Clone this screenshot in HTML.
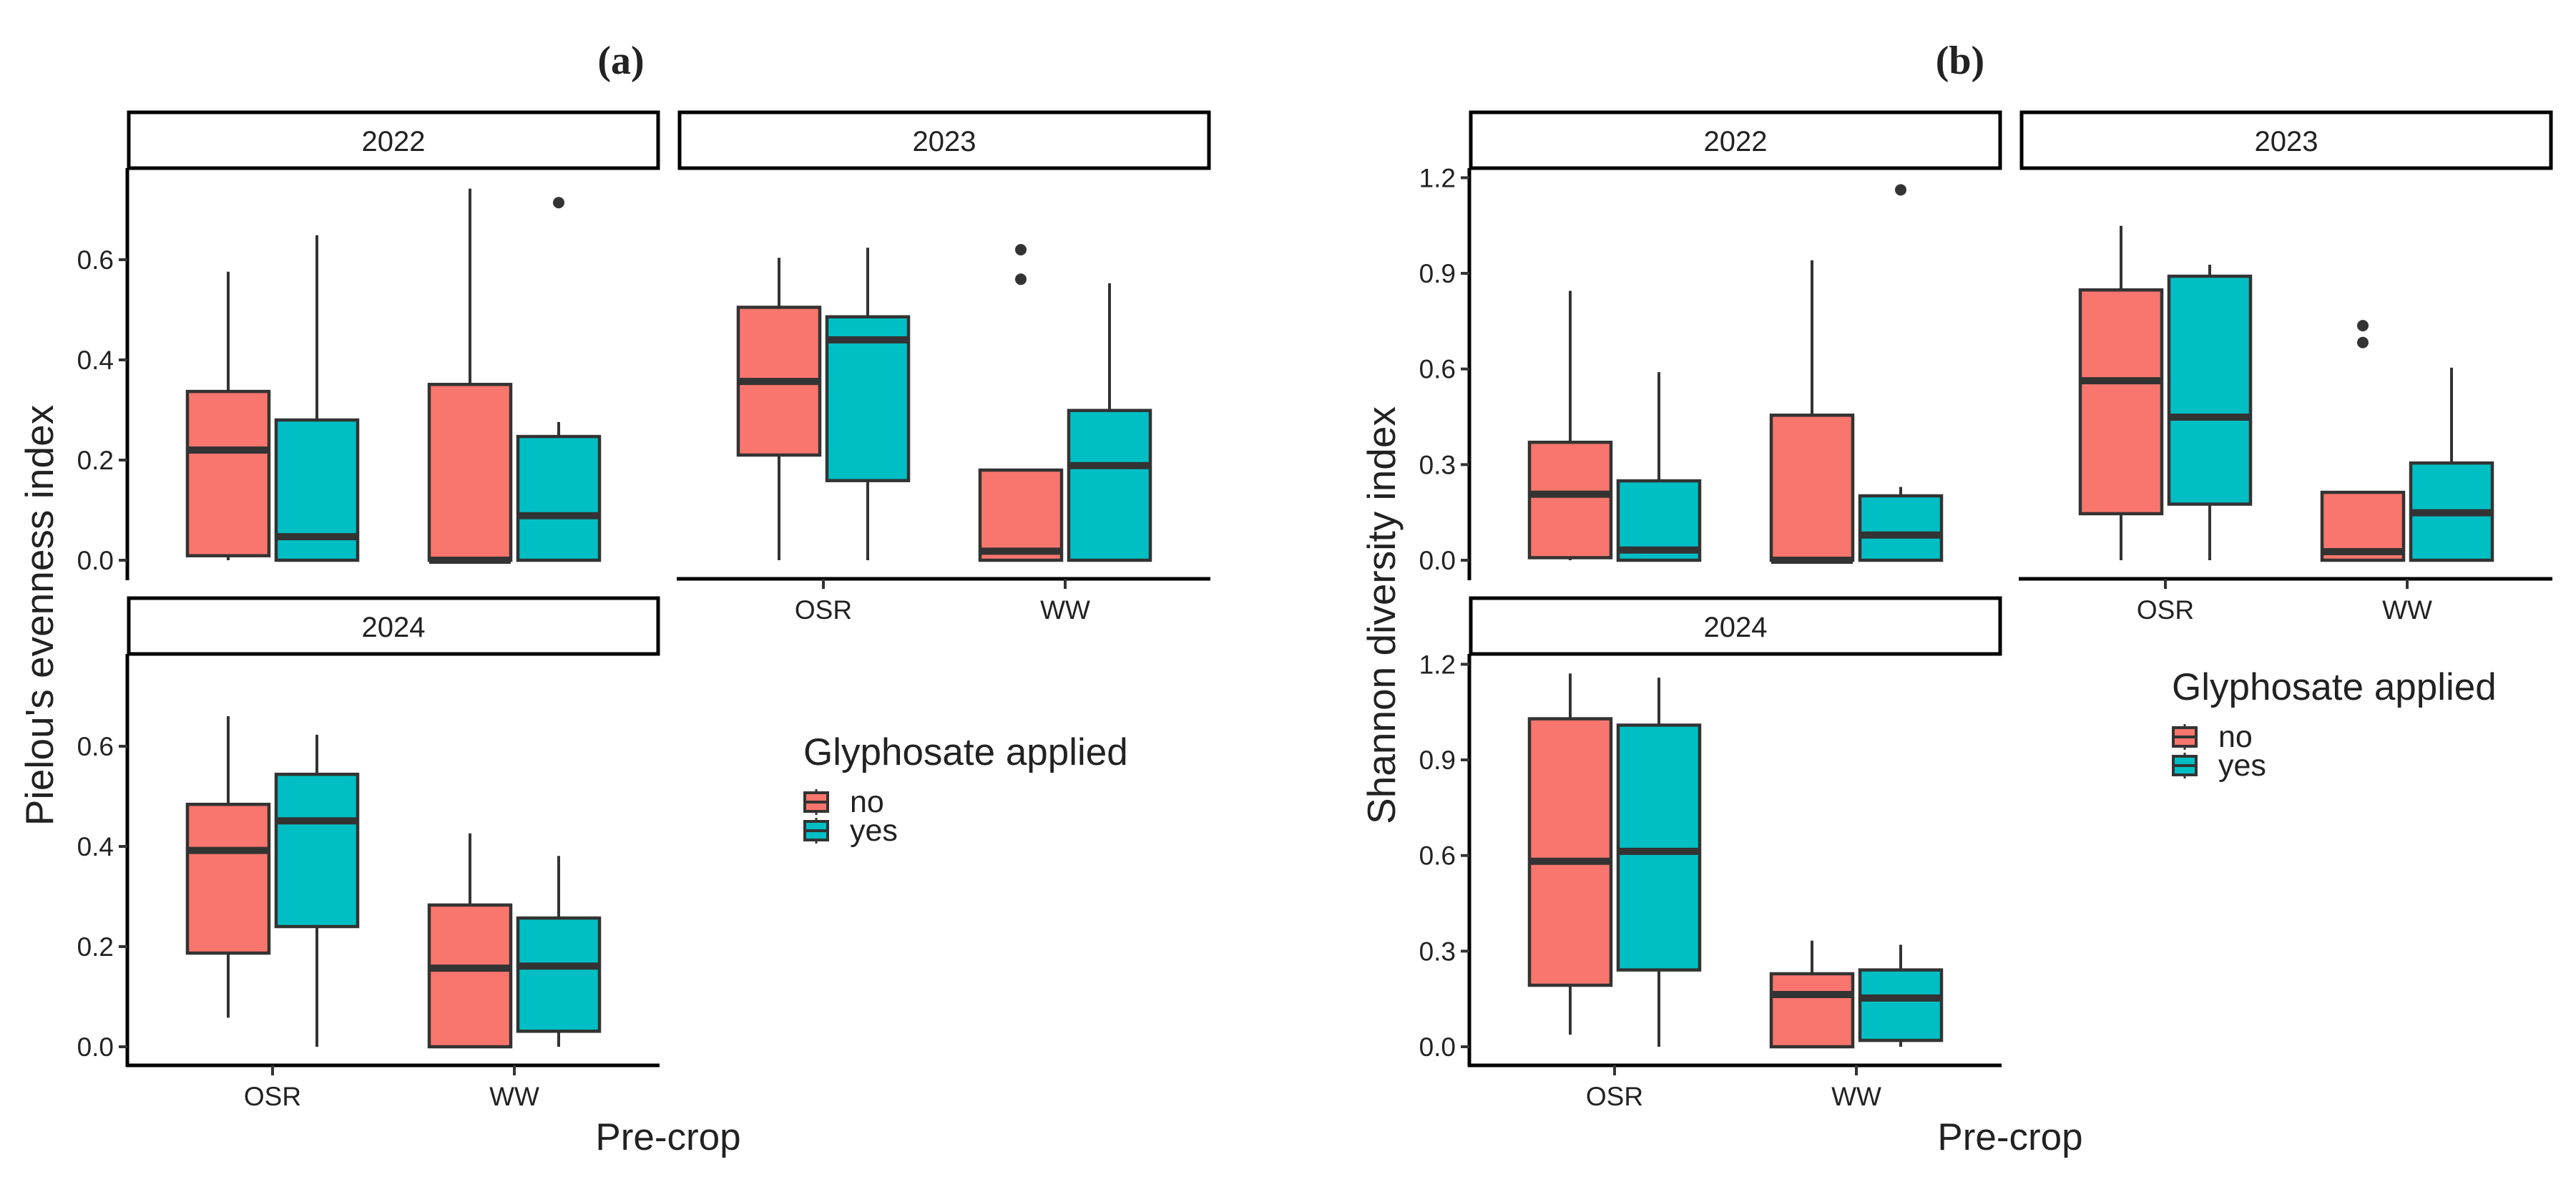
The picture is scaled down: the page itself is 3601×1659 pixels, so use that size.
<!DOCTYPE html>
<html><head><meta charset="utf-8"><style>
html,body{margin:0;padding:0;background:#fff}
svg{display:block}
text{font-family:"Liberation Sans",sans-serif;fill:#222}
</style></head><body>
<svg id="chart" xmlns="http://www.w3.org/2000/svg" width="3601" height="1659" viewBox="0 0 3601 1659"></svg>
<script>
// categories and groups
const categories = ["OSR", "WW"];
const groups = ["no", "yes"];
const years = ["2022", "2023", "2024"];
// Pielou's evenness: [min, q1, median, q3, max] per year / crop / glyphosate
const pielou2022 = [[0, 0.009, 0.22, 0.337, 0.576], [0, 0, 0.047, 0.28, 0.649], [0, 0, 0, 0.351, 0.742], [0, 0, 0.089, 0.247, 0.276]];
const pielou2023 = [[0, 0.21, 0.357, 0.505, 0.604], [0, 0.159, 0.44, 0.486, 0.624], [0, 0, 0.018, 0.18, 0.18], [0, 0, 0.189, 0.299, 0.553]];
const pielou2024 = [[0.058, 0.187, 0.392, 0.484, 0.66], [0, 0.24, 0.451, 0.544, 0.623], [0, 0, 0.157, 0.283, 0.426], [0, 0.031, 0.161, 0.257, 0.381]];
const pielouOut2022 = [[], [], [], [0.714]];
const pielouOut2023 = [[], [], [0.62, 0.561], []];
const pielouOut2024 = [[], [], [], []];
// Shannon diversity
const shannon2022 = [[0, 0.008, 0.207, 0.37, 0.845], [0, 0, 0.032, 0.249, 0.59], [0, 0, 0, 0.455, 0.941], [0, 0, 0.079, 0.202, 0.23]];
const shannon2023 = [[0, 0.146, 0.563, 0.848, 1.049], [0, 0.176, 0.449, 0.891, 0.927], [0, 0, 0.027, 0.213, 0.213], [0, 0, 0.149, 0.305, 0.604]];
const shannon2024 = [[0.038, 0.193, 0.582, 1.029, 1.171], [0, 0.241, 0.613, 1.009, 1.158], [0, 0, 0.164, 0.229, 0.333], [0, 0.02, 0.153, 0.241, 0.32]];
const shannonOut2022 = [[], [], [], [1.162]];
const shannonOut2023 = [[], [], [0.736, 0.683], []];
const shannonOut2024 = [[], [], [], []];
// tick labels
const pielouTicks = [0.0, 0.2, 0.4, 0.6];
const pielouTickLabels = ["0.0", "0.2", "0.4", "0.6"];
const shannonTicks = [0.0, 0.3, 0.6, 0.9, 1.2];
const shannonTickLabels = ["0.0", "0.3", "0.6", "0.9", "1.2"];

const NS = "http://www.w3.org/2000/svg";
const svg = document.getElementById("chart");
const fills = {no: "#F8766D", yes: "#00BFC4"};
function mk(tag, attrs, parent, text) {
  const e = document.createElementNS(NS, tag);
  for (const k in attrs) e.setAttribute(k, attrs[k]);
  if (text !== undefined) e.textContent = text;
  (parent || svg).appendChild(e);
  return e;
}

function drawPanel(P) {
  const g = mk("g", {});
  
  
  const yS = v => P.base - P.scale * v;
  const xCat = i => P.x0 + 201 + i * 338;
  const st = mk("rect", {x: P.x0, y: P.stripY, width: 740, height: 78, fill: "#fff", stroke: "#000", "stroke-width": 5}, g);
  
  
  const stt = mk("text", {x: P.x0 + 370, y: P.stripY + 54, "font-size": 40, "text-anchor": "middle"}, g, P.year);
  
  
  if (P.leftAxis) {
    const ax = mk("line", {x1: P.x0 - 2, x2: P.x0 - 2, y1: P.stripY + 78, y2: P.base + 28, stroke: "#000", "stroke-width": 5}, g);
    
    
    P.ticks.forEach((t, i) => {
      const tk = mk("line", {x1: P.x0 - 14, x2: P.x0 - 2, y1: yS(t), y2: yS(t), stroke: "#333", "stroke-width": 4}, g);
      
      
      const tl = mk("text", {x: P.x0 - 21, y: yS(t) + 13, "font-size": 37, "text-anchor": "end", fill: "#333"}, g, P.labels[i]);
      
      
    });
  }
  if (P.bottomAxis) {
    const ax = mk("line", {x1: P.x0 - 4, x2: P.x0 + 742, y1: P.base + 26, y2: P.base + 26, stroke: "#000", "stroke-width": 5}, g);
    
    
    categories.forEach((c, i) => {
      const tk = mk("line", {x1: xCat(i), x2: xCat(i), y1: P.base + 26, y2: P.base + 40, stroke: "#333", "stroke-width": 4}, g);
      
      
      const tl = mk("text", {x: xCat(i), y: P.base + 82, "font-size": 37, "text-anchor": "middle", fill: "#333"}, g, c);
      
      
    });
  }
  P.stats.forEach((s, k) => {
    const ci = Math.floor(k / 2), gi = k % 2;
    const cx = xCat(ci) + (gi === 0 ? -62 : 62);
    const bg = mk("g", {}, g);
    
    
    const w1 = mk("line", {x1: cx, x2: cx, y1: yS(s[3]), y2: yS(s[4]), stroke: "#333", "stroke-width": 4}, bg);
    
    
    const w2 = mk("line", {x1: cx, x2: cx, y1: yS(s[1]), y2: yS(s[0]), stroke: "#333", "stroke-width": 4}, bg);
    
    
    const r = mk("rect", {x: cx - 57, y: yS(s[3]), width: 114, height: Math.max(0.5, yS(s[1]) - yS(s[3])), fill: fills[groups[gi]], stroke: "#333", "stroke-width": 4.5}, bg);
    
    
    const m = mk("line", {x1: cx - 57, x2: cx + 57, y1: yS(s[2]), y2: yS(s[2]), stroke: "#333", "stroke-width": 10}, bg);
    
    
    P.outs[k].forEach(o => {
      const c = mk("circle", {cx: cx, cy: yS(o), r: 8, fill: "#333"}, bg);
      
      
    });
  });
}

function drawFigure(F) {
  drawPanel({prefix: F.prefix, x0: F.x0, base: 783, scale: F.scale, stats: F.stats[0], outs: F.outs[0], year: years[0], stripY: 157, leftAxis: true, bottomAxis: false, ticks: F.ticks, labels: F.labels});
  drawPanel({prefix: F.prefix, x0: F.x0 + 770, base: 783, scale: F.scale, stats: F.stats[1], outs: F.outs[1], year: years[1], stripY: 157, leftAxis: false, bottomAxis: true, ticks: F.ticks, labels: F.labels});
  drawPanel({prefix: F.prefix, x0: F.x0, base: 1463, scale: F.scale, stats: F.stats[2], outs: F.outs[2], year: years[2], stripY: 836, leftAxis: true, bottomAxis: true, ticks: F.ticks, labels: F.labels});
  const t = mk("text", {x: F.titleX, y: 103, "font-size": 56, "text-anchor": "middle", style: "font-family:'Liberation Serif',serif;font-weight:bold", fill: "#000"}, svg, F.title);
  
  
  const yt = mk("text", {x: 0, y: 0, "font-size": 55, "text-anchor": "middle", transform: "translate(" + F.yTitleX + ",860) rotate(-90)", fill: "#111"}, svg, F.yTitle);
  
  
  const xt = mk("text", {x: F.x0 + 754, y: 1607, "font-size": 53, "text-anchor": "middle", fill: "#111"}, svg, "Pre-crop");
  
  
  const lg = mk("g", {});
  
  
  const lt = mk("text", {x: F.legX, y: F.legY, "font-size": 53, fill: "#111"}, lg, "Glyphosate applied");
  
  
  groups.forEach((gname, i) => {
    const yc = F.legY + 52 + i * 40;
    const eg = mk("g", {}, lg);
    
    
    mk("line", {x1: F.legX + 18, x2: F.legX + 18, y1: yc - 18, y2: yc + 18, stroke: "#333", "stroke-width": 3}, eg);
    mk("rect", {x: F.legX + 2, y: yc - 13, width: 32, height: 26, fill: fills[gname], stroke: "#333", "stroke-width": 4}, eg);
    mk("line", {x1: F.legX + 2, x2: F.legX + 34, y1: yc, y2: yc, stroke: "#333", "stroke-width": 4}, eg);
    const tx = mk("text", {x: F.legX + 65, y: yc + 14, "font-size": 43, fill: "#222"}, eg, gname);
    
    
  });
}

drawFigure({prefix: "a", x0: 180, scale: 700, stats: [pielou2022, pielou2023, pielou2024], outs: [pielouOut2022, pielouOut2023, pielouOut2024], ticks: pielouTicks, labels: pielouTickLabels, title: "(a)", titleX: 868, yTitle: "Pielou's evenness index", yTitleX: 74, legX: 1123, legY: 1069});
drawFigure({prefix: "b", x0: 2056, scale: 445.5, stats: [shannon2022, shannon2023, shannon2024], outs: [shannonOut2022, shannonOut2023, shannonOut2024], ticks: shannonTicks, labels: shannonTickLabels, title: "(b)", titleX: 2740, yTitle: "Shannon diversity index", yTitleX: 1950, legX: 3036, legY: 978});
</script>
</body></html>
